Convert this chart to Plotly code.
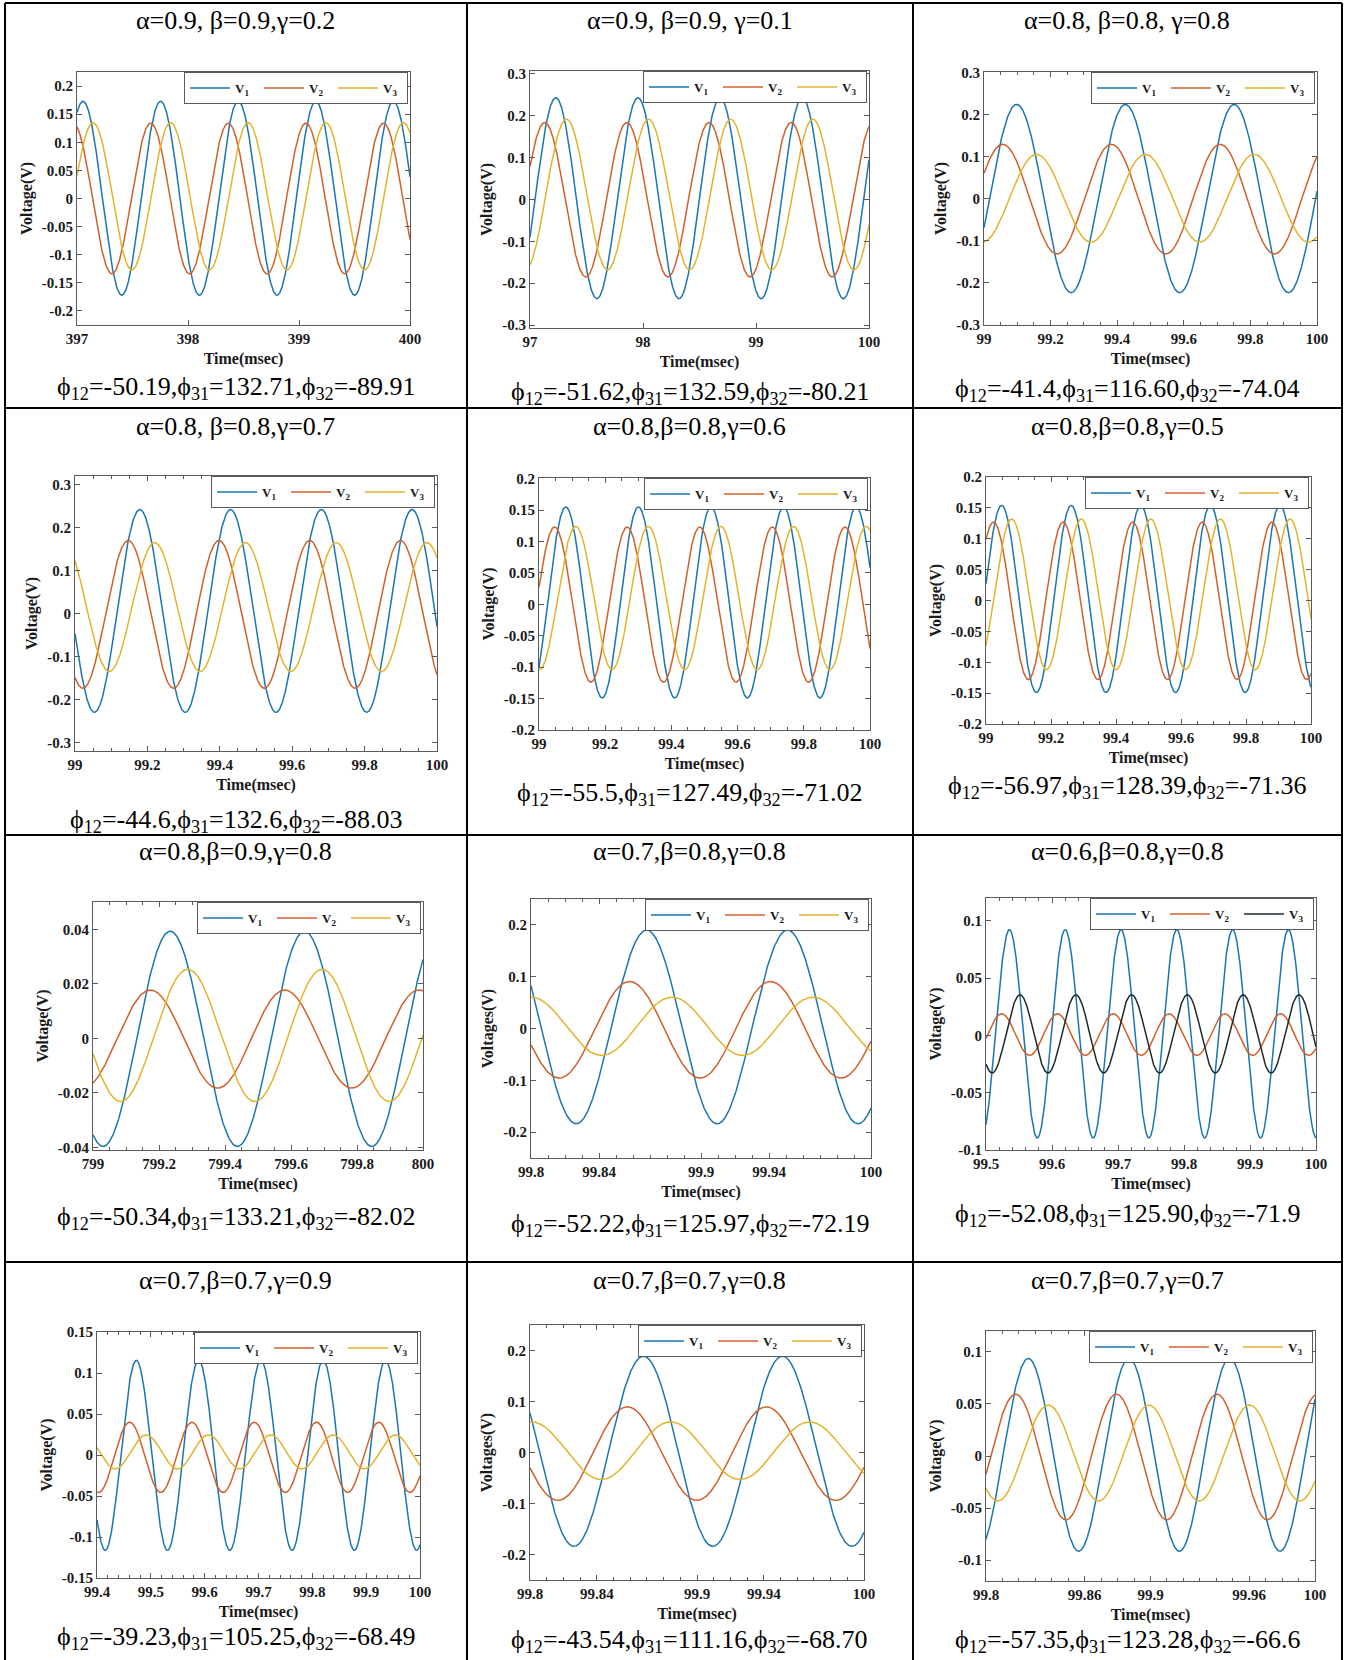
import numpy as np
import plotly.graph_objects as go

# ---------------- data ----------------
titles = ["α=0.9, β=0.9,γ=0.2", "α=0.9, β=0.9, γ=0.1", "α=0.8, β=0.8, γ=0.8",
          "α=0.8, β=0.8,γ=0.7", "α=0.8,β=0.8,γ=0.6", "α=0.8,β=0.8,γ=0.5",
          "α=0.8,β=0.9,γ=0.8", "α=0.7,β=0.8,γ=0.8", "α=0.6,β=0.8,γ=0.8",
          "α=0.7,β=0.7,γ=0.9", "α=0.7,β=0.7,γ=0.8", "α=0.7,β=0.7,γ=0.7"]

phi12 = ["-50.19", "-51.62", "-41.4", "-44.6", "-55.5", "-56.97",
         "-50.34", "-52.22", "-52.08", "-39.23", "-43.54", "-57.35"]
phi31 = ["132.71", "132.59", "116.60", "132.6", "127.49", "128.39",
         "133.21", "125.97", "125.90", "105.25", "111.16", "123.28"]
phi32 = ["-89.91", "-80.21", "-74.04", "-88.03", "-71.02", "-71.36",
         "-82.02", "-72.19", "-71.9", "-68.49", "-68.70", "-66.6"]

series_names = ["V1", "V2", "V3"]

x_ranges = [[397, 400], [97, 100], [99, 100], [99, 100], [99, 100], [99, 100],
            [799, 800], [99.8, 100], [99.5, 100], [99.4, 100], [99.8, 100], [99.8, 100]]
y_ranges = [[-0.225, 0.225], [-0.307, 0.307], [-0.3, 0.302], [-0.32, 0.32],
            [-0.2, 0.201], [-0.2, 0.2], [-0.041, 0.05], [-0.25, 0.25],
            [-0.1, 0.12], [-0.15, 0.15], [-0.25, 0.25], [-0.12, 0.12]]

x_tick_labels = [["397", "398", "399", "400"], ["97", "98", "99", "100"],
                 ["99", "99.2", "99.4", "99.6", "99.8", "100"],
                 ["99", "99.2", "99.4", "99.6", "99.8", "100"],
                 ["99", "99.2", "99.4", "99.6", "99.8", "100"],
                 ["99", "99.2", "99.4", "99.6", "99.8", "100"],
                 ["799", "799.2", "799.4", "799.6", "799.8", "800"],
                 ["99.8", "99.84", "99.9", "99.94", "100"],
                 ["99.5", "99.6", "99.7", "99.8", "99.9", "100"],
                 ["99.4", "99.5", "99.6", "99.7", "99.8", "99.9", "100"],
                 ["99.8", "99.84", "99.9", "99.94", "100"],
                 ["99.8", "99.86", "99.9", "99.96", "100"]]

y_tick_labels = [["-0.2", "-0.15", "-0.1", "-0.05", "0", "0.05", "0.1", "0.15", "0.2"],
                 ["-0.3", "-0.2", "-0.1", "0", "0.1", "0.2", "0.3"],
                 ["-0.3", "-0.2", "-0.1", "0", "0.1", "0.2", "0.3"],
                 ["-0.3", "-0.2", "-0.1", "0", "0.1", "0.2", "0.3"],
                 ["-0.2", "-0.15", "-0.1", "-0.05", "0", "0.05", "0.1", "0.15", "0.2"],
                 ["-0.2", "-0.15", "-0.1", "-0.05", "0", "0.05", "0.1", "0.15", "0.2"],
                 ["-0.04", "-0.02", "0", "0.02", "0.04"],
                 ["-0.2", "-0.1", "0", "0.1", "0.2"],
                 ["-0.1", "-0.05", "0", "0.05", "0.1"],
                 ["-0.15", "-0.1", "-0.05", "0", "0.05", "0.1", "0.15"],
                 ["-0.2", "-0.1", "0", "0.1", "0.2"],
                 ["-0.1", "-0.05", "0", "0.05", "0.1"]]

# minor x-tick spacing (ms); None = no minor ticks
x_minor_step = [None, None, 0.05, 0.05, 0.05, 0.05, 0.05, 0.01, 0.02, 0.02, 0.01, 0.01]

y_titles = ["Voltage(V)"] * 7 + ["Voltages(V)", "Voltage(V)", "Voltage(V)", "Voltages(V)", "Voltage(V)"]
x_title = "Time(msec)"

# waveform readings: period (ms), time of a crest (ms), crest and trough voltages (V) for V1, V2, V3
period_ms = [0.699, 0.727, 0.3265, 0.2507, 0.2193, 0.2141, 0.407, 0.0829, 0.08455, 0.1157, 0.0832, 0.0612]
crest_time_ms = [[397.054, 397.664, 397.144], [97.955, 97.857, 98.049], [99.098, 99.056, 99.158],
                 [99.179, 99.147, 99.220], [99.081, 99.047, 99.111], [99.048, 99.023, 99.079],
                 [799.234, 799.174, 799.287], [99.868, 99.858, 99.883], [99.5354, 99.5237, 99.5515],
                 [99.473, 99.4606, 99.4915], [99.8679, 99.8583, 99.8842], [99.8257, 99.818, 99.8378]]
crest_v = [[0.173, 0.134, 0.135], [0.243, 0.184, 0.192], [0.225, 0.130, 0.106],
           [0.242, 0.170, 0.165], [0.155, 0.123, 0.124], [0.154, 0.127, 0.132],
           [0.0393, 0.0177, 0.0253], [0.190, 0.0907, 0.0605], [0.0924, 0.0189, 0.0355],
           [0.1155, 0.040, 0.0245], [0.189, 0.0895, 0.060], [0.0937, 0.0594, 0.0489]]
trough_v = [[-0.172, -0.134, -0.127], [-0.237, -0.185, -0.168], [-0.223, -0.131, -0.103],
            [-0.230, -0.174, -0.135], [-0.149, -0.124, -0.104], [-0.149, -0.128, -0.112],
            [-0.0397, -0.0183, -0.0232], [-0.184, -0.0958, -0.052], [-0.0895, -0.0174, -0.0328],
            [-0.1163, -0.0457, -0.017], [-0.184, -0.094, -0.053], [-0.0914, -0.0613, -0.0432]]

# ---------------- layout / style (pixels of the 1346x1660 page) ----------------
W, H = 1346, 1660
plot_boxes = [  # left, right, top, bottom
    (77, 410, 72, 325), (530, 869, 71, 328), (984, 1317, 72, 325),
    (75, 437, 476, 751), (539, 870, 478, 730), (986, 1311, 477, 724),
    (93, 423, 902, 1150), (531, 871, 899, 1158), (986, 1316, 898, 1150),
    (97, 420, 1332, 1578), (530, 864, 1325, 1580), (986, 1315, 1331, 1581)]
cell_centers_x = [236, 690, 1127]
title_y = [20, 426, 852, 1280]
phase_y = [[388, 393, 390], [821, 794, 787], [1218, 1225, 1215], [1638, 1641, 1641]]

base_colors = ["#1a76b0", "#d0602c", "#e3b32c"]
panel9_colors = ["#1a76b0", "#d0602c", "#1e2a2a"]
serif = "Liberation Serif, Times New Roman, serif"
axis_col = "#5a5a5a"
txt_col = "#1a1a1a"

fig = go.Figure()
layout = dict(width=W, height=H, margin=dict(l=0, r=0, t=0, b=0, autoexpand=False),
              paper_bgcolor="white", plot_bgcolor="white", showlegend=True)
annotations = []
shapes = []


def px(x):
    return x / W


def py(y):
    return 1 - y / H


for i in range(12):
    r, c = divmod(i, 3)
    n = "" if i == 0 else str(i + 1)
    xa, ya = "x" + n, "y" + n
    leg = "legend" if i == 0 else "legend" + str(i + 1)
    L, R, T, B = plot_boxes[i]
    colors = panel9_colors if i == 8 else base_colors
    t = np.linspace(x_ranges[i][0], x_ranges[i][1], 2500)
    for k in range(3):
        amp = (crest_v[i][k] - trough_v[i][k]) / 2
        off = (crest_v[i][k] + trough_v[i][k]) / 2
        v = off + amp * np.cos(2 * np.pi * (t - crest_time_ms[i][k]) / period_ms[i])
        fig.add_trace(go.Scatter(
            x=t, y=v, mode="lines", xaxis=xa, yaxis=ya, legend=leg,
            name="V<sub>%s</sub>" % series_names[k][1:],
            line=dict(color=colors[k], width=1.5), hoverinfo="skip"))

    xt = [float(s) for s in x_tick_labels[i]]
    yt = [float(s) for s in y_tick_labels[i]]
    common = dict(showline=True, mirror="ticks", linecolor=axis_col, linewidth=1,
                  ticks="inside", ticklen=5, tickcolor=axis_col, showgrid=False,
                  zeroline=False, automargin=False,
                  tickfont=dict(family=serif, size=15, color=txt_col, weight="bold"))
    xaxis = dict(domain=[px(L), px(R)], range=x_ranges[i], anchor=ya,
                 tickvals=xt, ticktext=x_tick_labels[i],
                 title=dict(text=x_title, standoff=6,
                            font=dict(family=serif, size=16, color=txt_col, weight="bold")),
                 **common)
    if x_minor_step[i]:
        xaxis["minor"] = dict(tickmode="linear", tick0=x_ranges[i][0], dtick=x_minor_step[i],
                              ticks="inside", ticklen=3, tickcolor=axis_col, showgrid=False)
    layout["xaxis" + n] = xaxis
    layout["yaxis" + n] = dict(domain=[py(B), py(T)], range=y_ranges[i], anchor=xa,
                               tickvals=yt, ticktext=y_tick_labels[i],
                               title=dict(text=y_titles[i], standoff=5,
                                          font=dict(family=serif, size=16, color=txt_col, weight="bold")),
                               **common)
    layout[leg] = dict(orientation="h", x=px(R - 2), xanchor="right", y=py(T), yanchor="top",
                       bgcolor="white", bordercolor=axis_col, borderwidth=1,
                       font=dict(family=serif, size=13, color=txt_col, weight="bold"),
                       itemwidth=40, entrywidth=19, tracegroupgap=0, traceorder="normal")

    annotations.append(dict(x=px(cell_centers_x[c]), y=py(title_y[r]), xref="paper", yref="paper",
                            text=titles[i], showarrow=False, xanchor="center", yanchor="middle",
                            font=dict(family=serif, size=26, color="black")))
    ptxt = "ϕ<sub>12</sub>=%s,ϕ<sub>31</sub>=%s,ϕ<sub>32</sub>=%s" % (phi12[i], phi31[i], phi32[i])
    annotations.append(dict(x=px(cell_centers_x[c]), y=py(phase_y[r][c]), xref="paper", yref="paper",
                            text=ptxt, showarrow=False, xanchor="center", yanchor="middle",
                            font=dict(family=serif, size=26, color="black")))

# table grid
col_lines = [5, 467, 913, 1342]
row_lines = [3, 408, 835, 1262]
for x in col_lines:
    shapes.append(dict(type="line", xref="paper", yref="paper", x0=px(x), x1=px(x), y0=0, y1=py(3),
                       line=dict(color="black", width=2)))
for y in row_lines:
    shapes.append(dict(type="line", xref="paper", yref="paper", x0=px(5), x1=px(1342), y0=py(y), y1=py(y),
                       line=dict(color="black", width=2)))

layout["annotations"] = annotations
layout["shapes"] = shapes
fig.update_layout(**layout)
fig.write_html("out.html")
